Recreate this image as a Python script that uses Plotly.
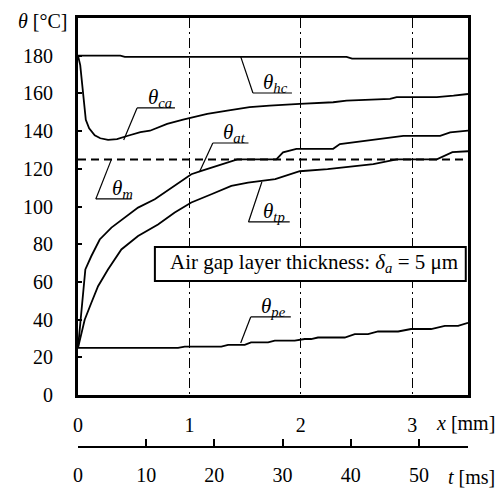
import plotly.graph_objects as go

# ---------------- data ----------------
X_MM_TICKS = [0, 1, 2, 3]
T_MS_TICKS = [0, 10, 20, 30, 40, 50]
T_MS_MAX = 57.2
Y_TICKS = [0, 20, 40, 60, 80, 100, 120, 140, 160, 180]
THETA_M = 125

hc_x = [0, 0.38, 0.42, 2.41, 2.46, 3.5]
hc_y = [180, 180, 179.4, 179.4, 178.4, 178.4]

ca_x = [0, 0.02, 0.07, 0.1, 0.15, 0.2, 0.27, 0.35, 0.44, 0.56, 0.646, 0.8, 0.943,
        1.02, 1.16, 1.34, 1.45, 1.54, 1.72, 1.81, 1.99, 2.29, 2.41, 2.8, 2.86,
        3.0, 3.22, 3.37, 3.5]
ca_y = [180, 175, 146, 141.5, 137.8, 136.2, 135.3, 135.7, 137.4, 139.5, 140.2,
        143.8, 146.1, 147.3, 149.1, 150.9, 152.1, 152.7, 153.5, 153.9, 154.4,
        155.3, 156.2, 157.1, 158, 158, 158, 158.8, 159.7]

at_x = [0, 0.066, 0.119, 0.195, 0.3, 0.42, 0.539, 0.689, 0.868, 1.017, 1.107,
        1.257, 1.43, 1.78, 1.84, 1.96, 2.29, 2.35, 2.59, 2.68, 2.92, 3.25, 3.34, 3.5]
at_y = [25, 66.6, 73.6, 82.5, 88.8, 94.1, 99.4, 103.8, 110.9, 117.1, 118.9,
        121.6, 125, 125, 128.7, 130.6, 130.6, 133.1, 134.9, 135.8, 137.5, 137.5,
        139.3, 140.2]

tp_x = [0, 0.06, 0.119, 0.18, 0.269, 0.389, 0.539, 0.718, 0.868, 1.017, 1.197,
        1.376, 1.526, 1.77, 1.99, 2.24, 2.65, 2.86, 3.22, 3.36, 3.5]
tp_y = [25, 39.9, 48.8, 57.7, 66.6, 77.2, 84.3, 90.5, 96.8, 102.1, 106.5,
        110.9, 112.7, 114.5, 118.7, 119.8, 122.5, 125, 125, 128.8, 129.3]

pe_x = [0, 0.898, 0.958, 1.286, 1.347, 1.496, 1.553, 1.706, 1.766, 1.945, 2.035,
        2.092, 2.154, 2.394, 2.484, 2.603, 2.693, 2.873, 2.989, 3.169, 3.292,
        3.411, 3.5]
pe_y = [25, 25, 25.7, 25.7, 26.6, 26.6, 27.9, 27.9, 28.8, 28.8, 29.7, 29.7,
        30.5, 30.5, 32.3, 32.3, 33.7, 33.7, 35, 35, 36.7, 36.7, 38.3]

LABELS = ["hc", "ca", "at", "m", "tp", "pe"]

# ---------------- figure ----------------
FONT = "Liberation Serif, Tinos, 'Times New Roman', 'DejaVu Serif', serif"
fig = go.Figure()

for xs, ys in [(hc_x, hc_y), (ca_x, ca_y), (at_x, at_y), (tp_x, tp_y), (pe_x, pe_y)]:
    fig.add_trace(go.Scatter(x=xs, y=ys, mode="lines",
                             line=dict(color="black", width=1.8),
                             hoverinfo="skip"))
# empty trace so that the time axis is drawn
fig.add_trace(go.Scatter(x=[], y=[], xaxis="x2", yaxis="y", mode="lines",
                         hoverinfo="skip"))

shapes = []
shapes.append(dict(type="line", xref="x domain", yref="y", x0=0, x1=1,
                   y0=THETA_M, y1=THETA_M,
                   line=dict(color="black", width=2, dash="8px,5px")))

leaders = {
    "hc": (1.57, 1.92, 160.2, 1.46, 179.5),
    "ca": (0.53, 0.87, 152.3, 0.41, 135.3),
    "at": (1.21, 1.53, 133.7, 1.09, 118.3),
    "m":  (0.16, 0.48, 104.0, 0.30, 125.0),
    "tp": (1.53, 1.90, 91.8, 1.65, 113.0),
    "pe": (1.55, 1.91, 41.4, 1.46, 27.6),
}
label_x = {"hc": 1.65, "ca": 0.62, "at": 1.29, "m": 0.30, "tp": 1.65, "pe": 1.63}

annotations = []
for key in LABELS:
    x0, x1, yu, xe, ye = leaders[key]
    shapes.append(dict(type="line", xref="x", yref="y", x0=x0, x1=x1, y0=yu, y1=yu,
                       line=dict(color="black", width=1.2)))
    shapes.append(dict(type="line", xref="x", yref="y", x0=x0, x1=xe, y0=yu, y1=ye,
                       line=dict(color="black", width=1.2)))
    annotations.append(dict(x=label_x[key], y=yu, xref="x", yref="y",
                            xanchor="left", yanchor="bottom", showarrow=False,
                            text=f"<i>θ</i><sub><i>{key}</i></sub>",
                            font=dict(family=FONT, size=21, color="black"),
                            borderpad=0, yshift=-4))

shapes.append(dict(type="rect", xref="x", yref="y", x0=0.69, x1=3.48, y0=60.5, y1=78.5,
                   fillcolor="white", line=dict(color="black", width=2)))
annotations.append(dict(x=2.12, y=69.8, xref="x", yref="y", showarrow=False,
                        xanchor="center", yanchor="middle",
                        text="Air gap layer thickness: <i>δ</i><sub><i>a</i></sub> = 5 μm",
                        font=dict(family=FONT, size=21, color="black")))

annotations.append(dict(x=-0.16, y=0.993, xref="paper", yref="paper", showarrow=False,
                        xanchor="left", yanchor="middle",
                        text="<i>θ</i> [°C]", font=dict(family=FONT, size=20, color="black")))
annotations.append(dict(x=1.075, y=0.056, xref="paper", yref="paper", showarrow=False,
                        xanchor="right", yanchor="middle",
                        text="<i>x</i> [mm]", font=dict(family=FONT, size=20, color="black")))
annotations.append(dict(x=1.075, y=-0.07, xref="paper", yref="paper", showarrow=False,
                        xanchor="right", yanchor="middle",
                        text="<i>t</i> [ms]", font=dict(family=FONT, size=20, color="black")))

fig.update_layout(
    width=500, height=488,
    margin=dict(l=78, r=32, t=18, b=41, autoexpand=False),
    plot_bgcolor="white", paper_bgcolor="white",
    showlegend=False,
    font=dict(family=FONT, size=20, color="black"),
    shapes=shapes, annotations=annotations,
    xaxis=dict(range=[0, 3.5], tickvals=X_MM_TICKS, showline=True, mirror=True,
               linewidth=3, linecolor="black", showgrid=True, gridcolor="black",
               gridwidth=1, griddash="10px,4px,2px,4px", ticks="", zeroline=False,
               ticklabelstandoff=10, automargin=False),
    yaxis=dict(range=[0, 200], domain=[52 / 429, 1], tickvals=Y_TICKS,
               ticks="inside", ticklen=4, tickwidth=1.5, tickcolor="black",
               showline=True, mirror=True, linewidth=3, linecolor="black",
               showgrid=False, zeroline=False, ticklabelstandoff=18, automargin=False),
    xaxis2=dict(overlaying="x", anchor="free", position=0, side="bottom",
                range=[0, T_MS_MAX], tickvals=T_MS_TICKS + [T_MS_MAX],
                ticktext=[str(v) for v in T_MS_TICKS] + [""],
                ticks="inside", ticklen=7, tickwidth=2, tickcolor="black",
                showline=True, linewidth=2, linecolor="black", showgrid=False,
                zeroline=False, ticklabelstandoff=10, automargin=False),
)

fig.write_html("out.html", config={"displayModeBar": False},
               post_script="document.body.style.margin='0';")
